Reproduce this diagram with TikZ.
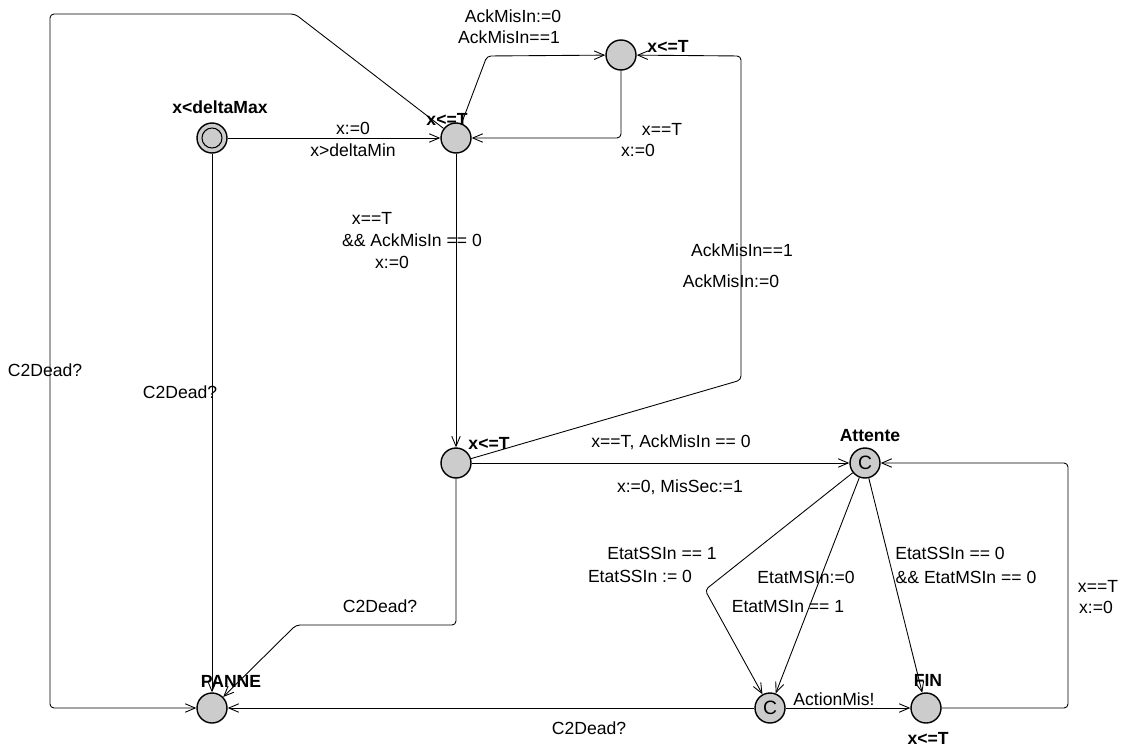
\documentclass[tikz,border=0pt]{standalone}
\usepackage{fontspec}
\setmainfont{Liberation Sans}
\usetikzlibrary{arrows.meta}

\tikzset{
  loc/.style={circle, draw, line width=0.8pt, fill=gray!40, minimum size=0.6cm, inner sep=0pt},
  edge/.style={-{Straight Barb[length=0.2cm,width=0.17cm]}, line width=0.5pt, rounded corners=0.08cm},
  lbl/.style={font=\fontsize{10}{11}\selectfont, inner sep=0pt},
  inv/.style={font=\fontsize{10}{11}\selectfont\bfseries, inner sep=0pt}
}

\begin{document}
\begin{tikzpicture}[x=0.02cm, y=-0.02cm]
\useasboundingbox (0,0) rectangle (1125,747);

% ===== locations =====
\node[loc] (init) at (212,138) {};
\draw[line width=0.6pt] (init) circle (0.2cm);
\node[loc] (A) at (456,138) {};
\node[loc] (B) at (621,55) {};
\node[loc] (Cn) at (456,463) {};
\node[loc, font=\fontsize{11}{11}\selectfont] (Att) at (865,463) {C};
\node[loc, font=\fontsize{11}{11}\selectfont] (Cm) at (770,708) {C};
\node[loc] (FIN) at (926,708) {};
\node[loc] (PANNE) at (212,708) {};

% ===== names and invariants =====
\node[inv] (iInit) at (220,107) {x<deltaMax};
\node[inv] (iA) at (447,119) {x<=T};
\node[inv] (iB) at (668,46) {x<=T};
\node[inv] (iCn) at (489,443) {x<=T};
\node[inv] (nAtt) at (870,436) {Attente};
\node[inv] (nPANNE) at (231,681) {PANNE};
\node[inv] (nFIN) at (928,680) {FIN};
\node[inv] (iFIN) at (928,738) {x<=T};

% ===== edges =====
\draw[edge] (init) -- (A);
\draw[edge] (A) -- (487,56) -- (B);
\draw[edge] (B) |- (A);
\draw[edge] (A) -- (Cn);
\draw[edge] (Cn) -- (741,380) -- (741,56) -- (B);
\draw[edge] (Cn) -- (Att);
\draw[edge] (Cn) -- (456,625) -- (296,625) -- (PANNE);
\draw[edge] (init) -- (PANNE);
\draw[edge] (A) -- (295,14) -- (50,14) -- (50,708) -- (PANNE);
\draw[edge] (Att) -- (705,590) -- (Cm);
\draw[edge] (Att) -- (Cm);
\draw[edge] (Att) -- (FIN);
\draw[edge] (FIN) -- (1068,708) -- (1068,463) -- (Att);
\draw[edge] (Cm) -- (FIN);
\draw[edge] (Cm) -- (PANNE);

% ===== edge labels =====
\node[lbl] (e1a) at (353,128) {x:=0};
\node[lbl] (e1b) at (353,150) {x>deltaMin};
\node[lbl] (e2a) at (513,16) {AckMisIn:=0};
\node[lbl] (e2b) at (509,37) {AckMisIn==1};
\node[lbl] (e3a) at (662,129) {x==T};
\node[lbl] (e3b) at (638,150) {x:=0};
\node[lbl] (e4a) at (372,218) {x==T};
\node[lbl] (e4b) at (412,240) {\&\& AckMisIn == 0};
\node[lbl] (e4c) at (392,262) {x:=0};
\node[lbl] (e5a) at (742,250) {AckMisIn==1};
\node[lbl] (e5b) at (731,281) {AckMisIn:=0};
\node[lbl] (e6a) at (671,442) {x==T, AckMisIn == 0};
\node[lbl] (e6b) at (680,487) {x:=0, MisSec:=1};
\node[lbl] (e7) at (380,606) {C2Dead?};
\node[lbl] (e8) at (180,392) {C2Dead?};
\node[lbl] (e9) at (45,370) {C2Dead?};
\node[lbl] (e10a) at (662,553) {EtatSSIn == 1};
\node[lbl] (e10b) at (640,576) {EtatSSIn := 0};
\node[lbl] (e11a) at (806,577) {EtatMSIn:=0};
\node[lbl] (e11b) at (788,606) {EtatMSIn == 1};
\node[lbl] (e12a) at (950,553) {EtatSSIn == 0};
\node[lbl] (e12b) at (966,577) {\&\& EtatMSIn == 0};
\node[lbl] (e13a) at (1098,586) {x==T};
\node[lbl] (e13b) at (1096,607) {x:=0};
\node[lbl] (e14) at (834,699) {ActionMis!};
\node[lbl] (e15) at (589,728) {C2Dead?};

\end{tikzpicture}
\end{document}
